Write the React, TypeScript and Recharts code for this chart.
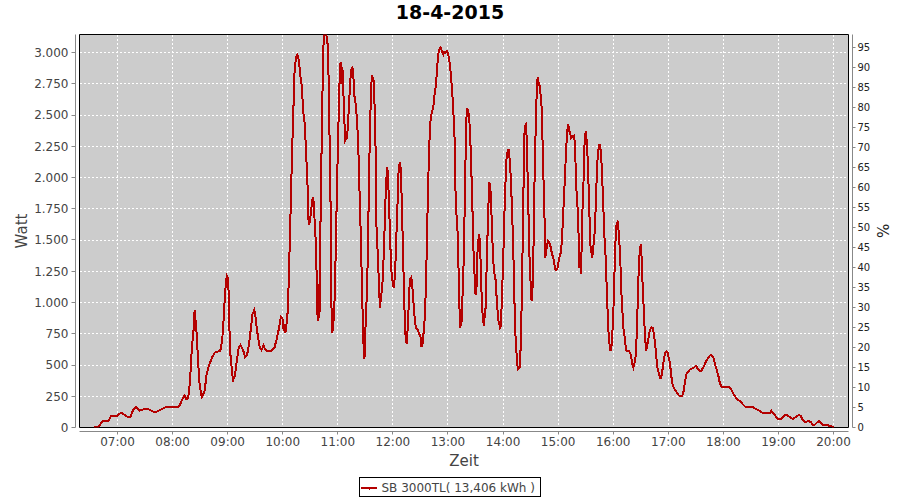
import React from "react";
import {
  LineChart,
  Line,
  XAxis,
  YAxis,
  CartesianGrid,
  ReferenceArea,
  Label,
} from "recharts";

// ------------------------------------------------------------
// SB 3000TL day curve, 18-4-2015
// ------------------------------------------------------------

const TITLE = "18-4-2015";
const SERIES_NAME = "SB 3000TL";
const DAY_ENERGY = "13,406 kWh";
const NOMINAL_W = 3200; // 100 % on the right axis

const HOUR_LABELS = [
  "07:00", "08:00", "09:00", "10:00", "11:00", "12:00", "13:00",
  "14:00", "15:00", "16:00", "17:00", "18:00", "19:00", "20:00",
];
const WATT_TICKS = [0, 250, 500, 750, 1000, 1250, 1500, 1750, 2000, 2250, 2500, 2750, 3000];
const PCT_TICKS = [0, 5, 10, 15, 20, 25, 30, 35, 40, 45, 50, 55, 60, 65, 70, 75, 80, 85, 90, 95];

const TIMES = [
  "06:34", "06:39", "06:44", "06:50", "06:53", "07:00", "07:04", "07:08", "07:11", "07:14",
  "07:17", "07:20", "07:24", "07:28", "07:34", "07:38", "07:41", "07:46", "07:52", "07:57",
  "08:06", "08:08", "08:10", "08:13", "08:15", "08:17", "08:19", "08:21", "08:23", "08:24",
  "08:26", "08:27", "08:29", "08:31", "08:32", "08:35", "08:37", "08:40", "08:43", "08:46",
  "08:50", "08:52", "08:54", "08:56", "08:57", "08:59", "09:00", "09:01", "09:02", "09:03",
  "09:05", "09:06", "09:08", "09:10", "09:12", "09:14", "09:17", "09:19", "09:21", "09:23",
  "09:25", "09:27", "09:29", "09:30", "09:32", "09:35", "09:37", "09:39", "09:41", "09:43",
  "09:47", "09:51", "09:53", "09:55", "09:57", "09:58", "10:00", "10:01", "10:02", "10:03",
  "10:05", "10:06", "10:07", "10:08", "10:09", "10:10", "10:11", "10:12", "10:13", "10:15",
  "10:16", "10:17", "10:18", "10:19", "10:21", "10:22", "10:24", "10:25", "10:26", "10:27",
  "10:28", "10:29", "10:31", "10:32", "10:33", "10:34", "10:35", "10:36", "10:37", "10:38",
  "10:39", "10:40", "10:41", "10:42", "10:43", "10:44", "10:45", "10:47", "10:48", "10:49",
  "10:50", "10:51", "10:52", "10:53", "10:54", "10:56", "10:57", "10:58", "10:59", "11:00",
  "11:01", "11:02", "11:03", "11:04", "11:05", "11:06", "11:07", "11:08", "11:10", "11:11",
  "11:12", "11:13", "11:14", "11:15", "11:16", "11:17", "11:18", "11:19", "11:21", "11:22",
  "11:23", "11:24", "11:25", "11:26", "11:27", "11:28", "11:29", "11:30", "11:32", "11:33",
  "11:34", "11:35", "11:36", "11:37", "11:38", "11:39", "11:40", "11:41", "11:42", "11:44",
  "11:45", "11:46", "11:47", "11:48", "11:49", "11:50", "11:51", "11:52", "11:53", "11:54",
  "11:55", "11:56", "11:57", "11:58", "12:00", "12:01", "12:02", "12:03", "12:04", "12:05",
  "12:06", "12:07", "12:08", "12:09", "12:10", "12:11", "12:12", "12:13", "12:14", "12:15",
  "12:16", "12:17", "12:18", "12:19", "12:20", "12:21", "12:22", "12:23", "12:24", "12:25",
  "12:27", "12:28", "12:30", "12:31", "12:32", "12:33", "12:35", "12:36", "12:37", "12:38",
  "12:39", "12:40", "12:41", "12:42", "12:43", "12:44", "12:45", "12:47", "12:48", "12:49",
  "12:50", "12:51", "12:52", "12:53", "12:54", "12:55", "12:56", "12:57", "12:59", "13:00",
  "13:01", "13:02", "13:03", "13:04", "13:05", "13:06", "13:07", "13:08", "13:09", "13:10",
  "13:11", "13:12", "13:13", "13:14", "13:15", "13:16", "13:17", "13:18", "13:19", "13:20",
  "13:21", "13:22", "13:23", "13:24", "13:25", "13:26", "13:27", "13:28", "13:30", "13:31",
  "13:32", "13:33", "13:34", "13:35", "13:36", "13:37", "13:38", "13:39", "13:41", "13:42",
  "13:43", "13:44", "13:45", "13:46", "13:47", "13:48", "13:49", "13:50", "13:52", "13:53",
  "13:54", "13:55", "13:56", "13:57", "13:58", "13:59", "14:00", "14:01", "14:02", "14:03",
  "14:04", "14:06", "14:07", "14:08", "14:09", "14:10", "14:11", "14:12", "14:13", "14:14",
  "14:15", "14:16", "14:18", "14:19", "14:20", "14:21", "14:22", "14:23", "14:24", "14:25",
  "14:26", "14:27", "14:28", "14:29", "14:31", "14:32", "14:33", "14:34", "14:35", "14:36",
  "14:37", "14:38", "14:39", "14:40", "14:42", "14:43", "14:44", "14:45", "14:46", "14:47",
  "14:48", "14:49", "14:50", "14:51", "14:52", "14:53", "14:55", "14:56", "14:57", "14:58",
  "14:59", "15:00", "15:02", "15:03", "15:04", "15:05", "15:06", "15:07", "15:08", "15:09",
  "15:10", "15:11", "15:12", "15:13", "15:14", "15:15", "15:17", "15:18", "15:19", "15:20",
  "15:21", "15:22", "15:23", "15:24", "15:25", "15:26", "15:27", "15:28", "15:29", "15:30",
  "15:31", "15:32", "15:33", "15:34", "15:35", "15:37", "15:38", "15:39", "15:40", "15:41",
  "15:42", "15:43", "15:44", "15:45", "15:46", "15:47", "15:48", "15:49", "15:50", "15:52",
  "15:53", "15:54", "15:55", "15:56", "15:57", "15:58", "15:59", "16:00", "16:01", "16:02",
  "16:03", "16:05", "16:06", "16:07", "16:08", "16:09", "16:10", "16:11", "16:13", "16:14",
  "16:15", "16:17", "16:18", "16:19", "16:20", "16:21", "16:22", "16:24", "16:25", "16:26",
  "16:27", "16:28", "16:29", "16:30", "16:31", "16:32", "16:33", "16:34", "16:35", "16:36",
  "16:38", "16:39", "16:40", "16:41", "16:42", "16:43", "16:44", "16:45", "16:46", "16:47",
  "16:48", "16:50", "16:51", "16:52", "16:53", "16:54", "16:55", "16:56", "16:57", "16:58",
  "16:59", "17:00", "17:02", "17:03", "17:04", "17:05", "17:06", "17:07", "17:08", "17:09",
  "17:10", "17:11", "17:12", "17:15", "17:16", "17:17", "17:18", "17:19", "17:20", "17:21",
  "17:22", "17:23", "17:24", "17:25", "17:28", "17:30", "17:31", "17:32", "17:34", "17:36",
  "17:38", "17:40", "17:42", "17:44", "17:45", "17:47", "17:49", "17:51", "17:53", "17:55",
  "17:56", "17:58", "18:00", "18:04", "18:07", "18:09", "18:11", "18:13", "18:15", "18:16",
  "18:18", "18:20", "18:22", "18:24", "18:25", "18:29", "18:31", "18:33", "18:35", "18:36",
  "18:38", "18:40", "18:42", "18:51", "18:52", "18:53", "18:56", "18:58", "19:00", "19:02",
  "19:04", "19:05", "19:07", "19:09", "19:11", "19:13", "19:15", "19:16", "19:18", "19:20",
  "19:22", "19:24", "19:25", "19:27", "19:29", "19:33", "19:35", "19:36", "19:38", "19:40",
  "19:42", "19:44", "19:45", "19:47", "19:49", "19:53", "19:55", "19:58", "20:00",
];

const WATTS = [
  0, 5, 50, 50, 95, 95, 120, 100, 85, 85,
  140, 165, 135, 145, 145, 130, 120, 140, 160, 165,
  165, 180, 215, 255, 225, 235, 375, 640, 790, 940,
  775, 640, 375, 265, 245, 295, 425, 505, 560, 600,
  610, 615, 695, 905, 1065, 1215, 1200, 1095, 775, 585,
  425, 380, 420, 535, 640, 660, 615, 560, 575, 655,
  775, 905, 940, 905, 775, 640, 620, 655, 625, 610,
  610, 640, 695, 760, 840, 885, 865, 775, 825, 760,
  880, 1040, 1305, 1575, 1865, 2160, 2400, 2640, 2880, 2975,
  2985, 2960, 2905, 2825, 2720, 2545, 2425, 2265, 2105, 1935,
  1665, 1625, 1735, 1815, 1840, 1785, 1600, 1495, 1200, 855,
  1145, 880, 1575, 2080, 2560, 2960, 3200, 3200, 3095, 3065,
  2775, 2320, 1840, 985, 760, 905, 1175, 1495, 1895, 2215,
  2520, 2800, 2920, 2745, 2880, 2695, 2480, 2295, 2320, 2415,
  2560, 2695, 2815, 2875, 2880, 2800, 2655, 2615, 2455, 2295,
  2080, 1785, 1545, 1225, 920, 665, 545, 775, 1145, 1520,
  2000, 2375, 2640, 2815, 2800, 2775, 2585, 2295, 1625, 1305,
  1095, 960, 1040, 1095, 1200, 1385, 1600, 1840, 2000, 2080,
  1945, 1735, 1520, 1280, 1145, 1120, 1200, 1360, 1575, 1785,
  2025, 2105, 2125, 1975, 1715, 1415, 1110, 850, 700, 670,
  780, 940, 1120, 1190, 1200, 1140, 1050, 940, 855, 800,
  785, 760, 730, 655, 655, 720, 905, 1145, 1465, 1815,
  2105, 2320, 2455, 2505, 2535, 2560, 2640, 2745, 2855, 2960,
  3010, 3035, 3040, 3020, 3000, 2985, 3005, 3000, 3010, 2990,
  2960, 2905, 2840, 2745, 2640, 2505, 2375, 1945, 1705, 1690,
  1385, 1145, 800, 825, 855, 1095, 1305, 1680, 2105, 2465,
  2555, 2535, 2480, 2375, 2160, 1920, 1655, 1360, 1065, 1095,
  1385, 1495, 1545, 1465, 1200, 985, 880, 815, 960, 1255,
  1520, 1760, 1960, 1945, 1785, 1575, 1385, 1255, 1175, 1040,
  935, 855, 825, 785, 880, 1095, 1305, 1575, 1840, 2025,
  2185, 2225, 2160, 2055, 1895, 1680, 1465, 1145, 825, 665,
  560, 465, 480, 615, 880, 1305, 1760, 2320, 2415, 2425,
  2265, 1920, 1625, 1305, 1015, 1095, 1360, 1865, 2240, 2505,
  2775, 2800, 2745, 2735, 2560, 2295, 2000, 1735, 1360, 1415,
  1465, 1495, 1485, 1465, 1440, 1400, 1345, 1305, 1265, 1260,
  1265, 1305, 1385, 1400, 1495, 1625, 1785, 1945, 2105, 2265,
  2375, 2425, 2375, 2360, 2315, 2325, 2335, 2295, 2105, 1895,
  1785, 1625, 1280, 1335, 1225, 1600, 1865, 2025, 2345, 2360,
  2300, 2175, 1975, 1735, 1465, 1360, 1415, 1495, 1575, 1785,
  2000, 2160, 2225, 2265, 2240, 2160, 1975, 1840, 1575, 1335,
  1095, 905, 745, 665, 615, 640, 745, 880, 1145, 1385,
  1600, 1655, 1560, 1440, 1280, 1065, 935, 800, 695, 615,
  610, 610, 600, 585, 545, 505, 480, 535, 640, 825,
  1095, 1305, 1415, 1465, 1355, 1145, 985, 825, 695, 615,
  695, 745, 775, 795, 800, 795, 760, 705, 640, 560,
  480, 425, 400, 400, 425, 480, 535, 575, 600, 610,
  605, 575, 505, 425, 375, 335, 320, 305, 295, 285,
  270, 260, 255, 255, 265, 305, 360, 400, 430, 440,
  450, 460, 465, 470, 480, 495, 485, 470, 455, 455,
  480, 510, 540, 560, 575, 580, 560, 505, 455, 400,
  360, 325, 320, 325, 320, 300, 270, 245, 225, 220,
  210, 195, 180, 165, 160, 165, 165, 160, 150, 145,
  140, 130, 120, 120, 135, 120, 100, 80, 65, 65,
  75, 85, 100, 100, 90, 80, 70, 70, 80, 90,
  100, 95, 80, 55, 45, 50, 45, 35, 20, 25,
  40, 50, 45, 30, 20, 20, 15, 10, 0,
];

// ---------------- layout / style ----------------
const FONT = "'DejaVu Sans', Verdana, sans-serif";
const LINE_RED = "#b40000";
const PLOT_BG = "#cccccc";
const AXIS_GRAY = "#888888";
const TICK_TEXT = "#444444";

const CHART_W = 900;
const CHART_H = 500;
const PLOT = { left: 79.5, top: 34.5, right: 848.5, bottom: 427.5 };
const X_DOMAIN: [number, number] = [378.6, 1216.3];
const Y_MAX = 3144;
const PCT_MAX = (Y_MAX / NOMINAL_W) * 100;

function toMinutes(t: string): number {
  const [h, m] = t.split(":").map(Number);
  return h * 60 + m;
}

function fmtMinutes(v: number): string {
  const h = Math.floor(v / 60);
  const m = Math.round(v % 60);
  return `${String(h).padStart(2, "0")}:${String(m).padStart(2, "0")}`;
}

// German thousands separator: 3000 -> "3.000"
function fmtWatt(v: number): string {
  if (v < 1000) return String(v);
  return `${Math.floor(v / 1000)}.${String(v % 1000).padStart(3, "0")}`;
}

const data = TIMES.map((t, i) => ({ t: toMinutes(t), w: WATTS[i] }));
const hourTicks = HOUR_LABELS.map(toMinutes);

const snap = (v: number) => Math.round(v - 0.5) + 0.5;

function LeftTick(props: any) {
  const { x, y, payload } = props;
  const yy = snap(y);
  return (
    <g>
      <line x1={x - 8} x2={x - 4} y1={yy} y2={yy} stroke={AXIS_GRAY} />
      <text
        x={x - 11}
        y={y}
        dy="0.36em"
        textAnchor="end"
        fontSize={12}
        fontFamily={FONT}
        fill={TICK_TEXT}
      >
        {fmtWatt(payload.value)}
      </text>
    </g>
  );
}

function RightTick(props: any) {
  const { x, y, payload } = props;
  const yy = snap(y);
  return (
    <g>
      <line x1={x + 4} x2={x + 7} y1={yy} y2={yy} stroke={AXIS_GRAY} />
      <text
        x={x + 9}
        y={y}
        dy="0.36em"
        textAnchor="start"
        fontSize={10}
        fontFamily={FONT}
        fill="#222"
      >
        {payload.value}
      </text>
    </g>
  );
}

function BottomTick(props: any) {
  const { x, y, payload } = props;
  const xx = snap(x);
  return (
    <g>
      <line x1={xx} x2={xx} y1={y + 4} y2={y + 7} stroke={AXIS_GRAY} />
      <text
        x={x}
        y={y + 18}
        textAnchor="middle"
        fontSize={12}
        fontFamily={FONT}
        fill={TICK_TEXT}
      >
        {fmtMinutes(payload.value)}
      </text>
    </g>
  );
}

export default function App() {
  return (
    <div
      style={{
        position: "absolute",
        left: 0,
        top: 0,
        width: CHART_W,
        height: CHART_H,
        background: "#fff",
      }}
    >
      <LineChart
        width={CHART_W}
        height={CHART_H}
        data={data}
        margin={{ top: PLOT.top, right: 0, bottom: 0, left: 0 }}
      >
        <CartesianGrid
          stroke="#ffffff"
          strokeDasharray="2 2"
          fill={PLOT_BG}
          fillOpacity={1}
          shapeRendering="crispEdges"
        />
        <XAxis
          type="number"
          dataKey="t"
          domain={X_DOMAIN}
          allowDataOverflow
          ticks={hourTicks}
          interval={0}
          height={CHART_H - PLOT.bottom}
          axisLine={false}
          tickLine={false}
          tickSize={0}
          tickMargin={0}
          tick={<BottomTick />}
        >
          <Label
            value="Zeit"
            position="insideBottom"
            offset={34.3}
            fontSize={15}
            fontFamily={FONT}
            fill={TICK_TEXT}
          />
        </XAxis>
        <YAxis
          type="number"
          domain={[0, Y_MAX]}
          allowDataOverflow
          ticks={WATT_TICKS}
          interval={0}
          width={PLOT.left}
          axisLine={false}
          tickLine={false}
          tickSize={0}
          tickMargin={0}
          tick={<LeftTick />}
        >
          <Label
            value="Watt"
            angle={-90}
            position="insideLeft"
            offset={22}
            fontSize={15}
            fontFamily={FONT}
            fill={TICK_TEXT}
            style={{ textAnchor: "middle" }}
          />
        </YAxis>
        <YAxis
          yAxisId="pct"
          orientation="right"
          type="number"
          domain={[0, PCT_MAX]}
          allowDataOverflow
          ticks={PCT_TICKS}
          interval={0}
          width={CHART_W - PLOT.right}
          axisLine={false}
          tickLine={false}
          tickSize={0}
          tickMargin={0}
          tick={<RightTick />}
        >
          <Label
            value="%"
            angle={90}
            position="insideRight"
            offset={18}
            fontSize={15}
            fontFamily={FONT}
            fill="#222"
            style={{ textAnchor: "middle" }}
          />
        </YAxis>
        <ReferenceArea
          x1={X_DOMAIN[0]}
          x2={X_DOMAIN[1]}
          y1={0}
          y2={Y_MAX}
          fill="none"
          stroke="#000"
          strokeWidth={1}
          ifOverflow="visible"
        />
        <Line
          type="linear"
          dataKey="w"
          stroke={LINE_RED}
          strokeWidth={2}
          dot={false}
          activeDot={false}
          isAnimationActive={false}
          shapeRendering="crispEdges"
        />
      </LineChart>

      {/* title, offset axis lines and legend box */}
      <svg
        width={CHART_W}
        height={CHART_H}
        style={{ position: "absolute", left: 0, top: 0, pointerEvents: "none" }}
      >
        <text
          x={450}
          y={18.5}
          textAnchor="middle"
          fontSize={19}
          fontWeight="bold"
          fontFamily={FONT}
          fill="#000"
        >
          {TITLE}
        </text>
        <line x1={PLOT.left - 4} x2={PLOT.left - 4} y1={PLOT.top} y2={PLOT.bottom} stroke={AXIS_GRAY} />
        <line x1={PLOT.right + 4} x2={PLOT.right + 4} y1={PLOT.top} y2={PLOT.bottom} stroke={AXIS_GRAY} />
        <line x1={PLOT.left} x2={PLOT.right} y1={PLOT.bottom + 4} y2={PLOT.bottom + 4} stroke={AXIS_GRAY} />

        <rect x={359.5} y={477.5} width={181} height={19} fill="#fff" stroke="#000" />
        <line x1={361} x2={377} y1={488} y2={488} stroke={LINE_RED} strokeWidth={2} />
        <line x1={369.5} x2={369.5} y1={488} y2={490} stroke={LINE_RED} />
        <text x={381.5} y={491.5} fontSize={12} fontFamily={FONT} fill={TICK_TEXT}>
          {`${SERIES_NAME}( ${DAY_ENERGY} )`}
        </text>
      </svg>
    </div>
  );
}
